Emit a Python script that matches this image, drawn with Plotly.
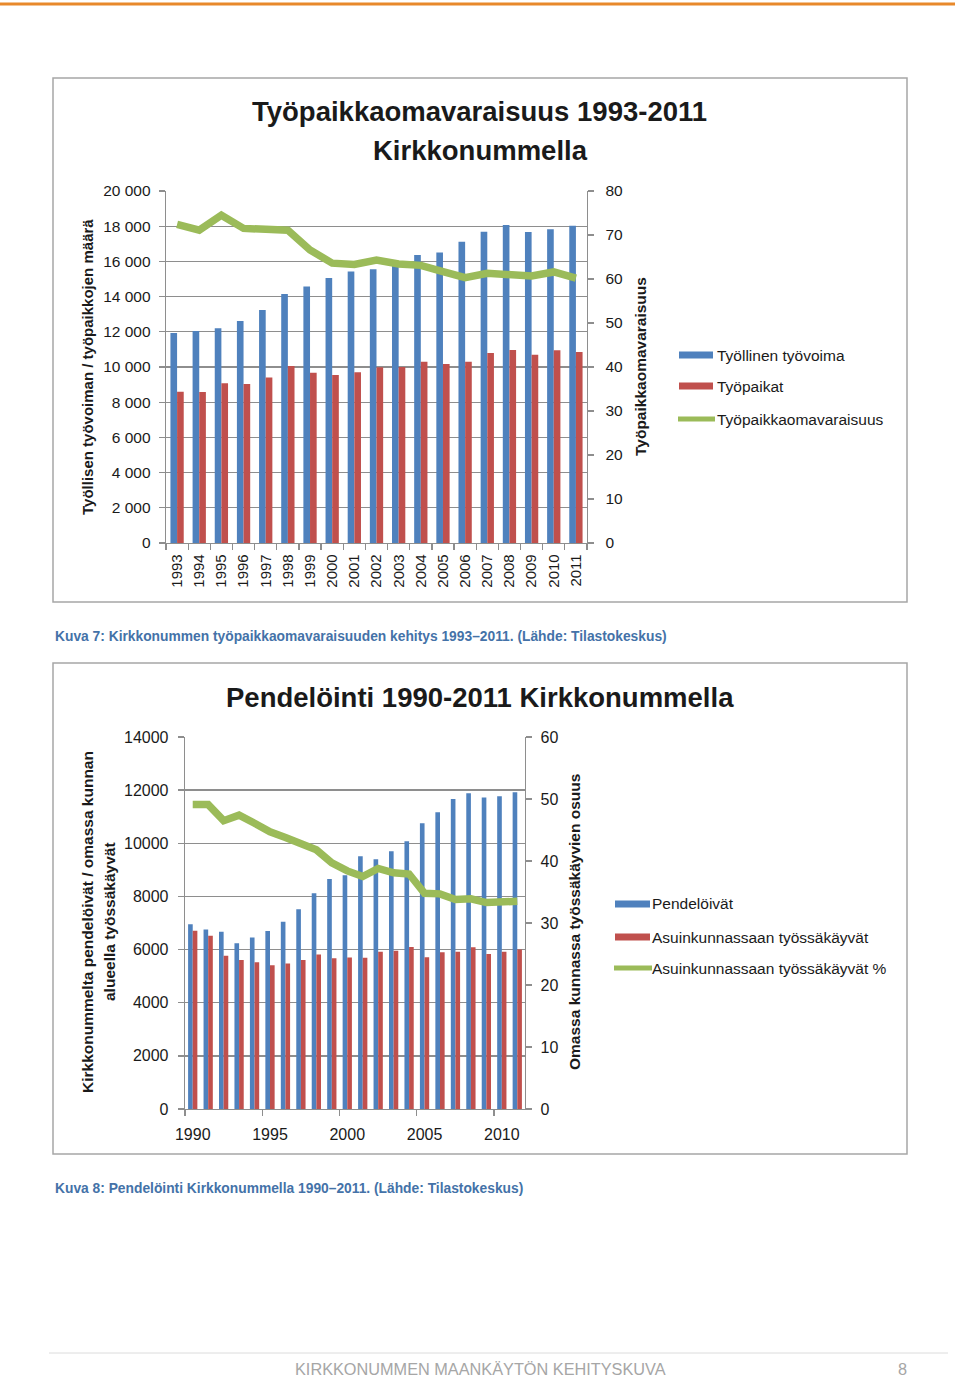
import plotly.graph_objects as go

# ---------------- DATA ----------------
years_top = ["1993", "1994", "1995", "1996", "1997", "1998", "1999", "2000", "2001", "2002",
             "2003", "2004", "2005", "2006", "2007", "2008", "2009", "2010", "2011"]
tyovoima = [11930, 12050, 12200, 12610, 13240, 14150, 14580, 15060, 15420, 15550,
            15800, 16360, 16510, 17120, 17690, 18070, 17670, 17820, 18030]
tyopaikat = [8600, 8580, 9070, 9030, 9410, 10060, 9680, 9545, 9700, 9980,
             10000, 10300, 10170, 10300, 10800, 10970, 10700, 10950, 10850]
omavaraisuus = [72.4, 71.1, 74.5, 71.5, 71.3, 71.1, 66.6, 63.6, 63.3, 64.3,
                63.4, 63.1, 61.7, 60.3, 61.3, 60.9, 60.7, 61.6, 60.2]

years_bot = [1990, 1991, 1992, 1993, 1994, 1995, 1996, 1997, 1998, 1999, 2000,
             2001, 2002, 2003, 2004, 2005, 2006, 2007, 2008, 2009, 2010, 2011]
pendeloivat = [6950, 6760, 6670, 6235, 6450, 6700, 7050, 7515, 8120, 8660, 8800,
               9510, 9400, 9700, 10075, 10750, 11165, 11670, 11880, 11720, 11770, 11920]
asuinkunnassa = [6710, 6520, 5770, 5610, 5520, 5410, 5480, 5610, 5810, 5670, 5700,
                 5695, 5920, 5960, 6100, 5710, 5900, 5920, 6085, 5835, 5920, 6000]
asuinkunnassa_pct = [49.1, 49.1, 46.5, 47.4, 46.1, 44.7, 43.8, 42.9, 41.8, 39.7, 38.4,
                     37.5, 38.8, 38.1, 37.9, 34.8, 34.7, 33.8, 33.9, 33.3, 33.5, 33.5]

top_left_ticks = [0, 2000, 4000, 6000, 8000, 10000, 12000, 14000, 16000, 18000, 20000]
top_right_ticks = [0, 10, 20, 30, 40, 50, 60, 70, 80]
bot_left_ticks = [0, 2000, 4000, 6000, 8000, 10000, 12000, 14000]
bot_right_ticks = [0, 10, 20, 30, 40, 50, 60]
bot_x_ticks = [1990, 1995, 2000, 2005, 2010]

names_top = ["Työllinen työvoima", "Työpaikat", "Työpaikkaomavaraisuus"]
names_bot = ["Pendelöivät", "Asuinkunnassaan työssäkäyvät", "Asuinkunnassaan työssäkäyvät %"]

# ---------------- STYLE ----------------
W, H = 960, 1378
BLUE, RED, GREEN = "#4F81BD", "#C0504D", "#9BBB59"
GRID = "#8e8e8e"
TXT = "#1a1a1a"
FONT = "Liberation Sans, Arial, sans-serif"


def px(x):
    return x / W


def py(y):
    return 1 - y / H


def spaced(v):
    return f"{v:,}".replace(",", " ")


fig = go.Figure()

# top chart
fig.add_trace(go.Bar(x=years_top, y=tyovoima, name=names_top[0], marker=dict(color=BLUE, line=dict(width=0)),
                     xaxis="x", yaxis="y", showlegend=False))
fig.add_trace(go.Bar(x=years_top, y=tyopaikat, name=names_top[1], marker=dict(color=RED, line=dict(width=0)),
                     xaxis="x", yaxis="y", showlegend=False))
fig.add_trace(go.Scatter(x=years_top, y=omavaraisuus, name=names_top[2], mode="lines",
                         line=dict(color=GREEN, width=7.5), xaxis="x", yaxis="y2", showlegend=False))

# bottom chart
fig.add_trace(go.Bar(x=years_bot, y=pendeloivat, name=names_bot[0], marker=dict(color=BLUE, line=dict(width=0)),
                     xaxis="x2", yaxis="y3", showlegend=False))
fig.add_trace(go.Bar(x=years_bot, y=asuinkunnassa, name=names_bot[1], marker=dict(color=RED, line=dict(width=0)),
                     xaxis="x2", yaxis="y3", showlegend=False))
fig.add_trace(go.Scatter(x=years_bot, y=asuinkunnassa_pct, name=names_bot[2], mode="lines",
                         line=dict(color=GREEN, width=7.5), xaxis="x2", yaxis="y4", showlegend=False))

axis_common = dict(showline=True, linecolor=GRID, linewidth=1.3, zeroline=False,
                   ticklen=6, tickcolor=GRID, tickwidth=1.3, fixedrange=True, automargin=False)

fig.update_layout(
    template="none",
    width=W, height=H, margin=dict(l=0, r=0, t=0, b=0, pad=0, autoexpand=False),
    paper_bgcolor="white", plot_bgcolor="white", showlegend=False,
    font=dict(family=FONT, color=TXT),
    barmode="group", bargap=0.4, bargroupgap=0.0,
    xaxis=dict(domain=[px(166), px(587)], anchor="y", type="category", tickangle=-90,
               tickson="boundaries", ticks="outside", showgrid=False, tickfont=dict(size=15, color=TXT),
               ticklabelstandoff=4, **axis_common),
    yaxis=dict(domain=[py(543), py(191)], anchor="x", range=[0, 20000], tickmode="array", ticks="outside",
               tickvals=top_left_ticks, ticktext=[spaced(v) for v in top_left_ticks],
               showgrid=True, gridcolor=GRID, gridwidth=1.3, tickfont=dict(size=15.5, color=TXT),
               ticklabelstandoff=5, **axis_common),
    yaxis2=dict(overlaying="y", anchor="x", side="right", range=[0, 80], tickmode="array", ticks="outside",
                tickvals=top_right_ticks, ticktext=[str(v) for v in top_right_ticks],
                showgrid=False, tickfont=dict(size=15.5, color=TXT), ticklabelstandoff=8, **axis_common),
    xaxis2=dict(domain=[px(185), px(525)], anchor="y3", range=[1989.5, 2011.5], tickmode="array",
                tickvals=bot_x_ticks, ticktext=[str(v) for v in bot_x_ticks], showgrid=False, ticks="",
                tickfont=dict(size=16, color=TXT), ticklabelstandoff=10,
                minor=dict(ticks="outside", tick0=1989.5, dtick=5, ticklen=6, tickcolor=GRID, tickwidth=1.3,
                           showgrid=False),
                **axis_common),
    yaxis3=dict(domain=[py(1109), py(737)], anchor="x2", range=[0, 14000], tickmode="array", ticks="outside",
                tickvals=bot_left_ticks, ticktext=[str(v) for v in bot_left_ticks],
                showgrid=True, gridcolor=GRID, gridwidth=1.3, tickfont=dict(size=16, color=TXT),
                ticklabelstandoff=6, **axis_common),
    yaxis4=dict(overlaying="y3", anchor="x2", side="right", range=[0, 60], tickmode="array", ticks="outside",
                tickvals=bot_right_ticks, ticktext=[str(v) for v in bot_right_ticks],
                showgrid=False, tickfont=dict(size=16, color=TXT), ticklabelstandoff=5, **axis_common),
)

shapes = []
annotations = []

# page decorations
shapes.append(dict(type="line", xref="paper", yref="paper", x0=px(0), x1=px(955), y0=py(4), y1=py(4),
                   line=dict(color="#E8892B", width=3)))
for (x0, y0, x1, y1) in [(53, 78, 907, 602), (53, 663, 907, 1154)]:
    shapes.append(dict(type="rect", xref="paper", yref="paper", x0=px(x0), x1=px(x1), y0=py(y1), y1=py(y0),
                       line=dict(color="#a6a6a6", width=1.5), fillcolor="rgba(0,0,0,0)", layer="below"))
shapes.append(dict(type="line", xref="paper", yref="paper", x0=px(49), x1=px(948), y0=py(1353), y1=py(1353),
                   line=dict(color="#dcdcdc", width=1)))


def ann(text, x, y, size, xanchor="center", yanchor="middle", bold=False, color=TXT, angle=0, family=FONT):
    annotations.append(dict(text=f"<b>{text}</b>" if bold else text, x=px(x), y=py(y), xref="paper",
                            yref="paper", xanchor=xanchor, yanchor=yanchor, showarrow=False,
                            textangle=angle, font=dict(size=size, color=color, family=family)))


# titles
ann("Työpaikkaomavaraisuus 1993-2011", 479, 112, 27.5, bold=True)
ann("Kirkkonummella", 480, 151, 27.5, bold=True)
ann("Pendelöinti 1990-2011 Kirkkonummella", 480, 697, 27.5, bold=True)

# axis titles
ann("Työllisen työvoiman / työpaikkojen määrä", 87, 367, 15, bold=True, angle=-90)
ann("Työpaikkaomavaraisuus", 640, 367, 15.5, bold=True, angle=-90)
ann("Kirkkonummelta pendelöivät / omassa kunnan", 87, 922, 15.5, bold=True, angle=-90)
ann("alueella työssäkäyvät", 109, 922, 15.5, bold=True, angle=-90)
ann("Omassa kunnassa työssäkäyvien osuus", 574, 922, 15.5, bold=True, angle=-90)


# legends
def legend(items, colors, x_sym0, x_sym1, x_text, ys, heights):
    for i, (name, col, yc) in enumerate(zip(items, colors, ys)):
        if i < 2:
            shapes.append(dict(type="rect", xref="paper", yref="paper", x0=px(x_sym0), x1=px(x_sym1),
                               y0=py(yc + heights / 2), y1=py(yc - heights / 2), fillcolor=col,
                               line=dict(width=0)))
        else:
            shapes.append(dict(type="line", xref="paper", yref="paper", x0=px(x_sym0 - 1), x1=px(x_sym1 + 2),
                               y0=py(yc), y1=py(yc), line=dict(color=col, width=5)))
        ann(name, x_text, yc, 15.5, xanchor="left")


legend(names_top, [BLUE, RED, GREEN], 679, 713, 715, [355, 386, 419], 7)
legend(names_bot, [BLUE, RED, GREEN], 615, 650, 650, [904, 937, 968], 7)

# captions
CAP = "#4472A8"
ann("Kuva 7: Kirkkonummen työpaikkaomavaraisuuden kehitys 1993–2011. (Lähde: Tilastokeskus)", 53, 636, 13.8,
    xanchor="left", bold=True, color=CAP)
ann("Kuva 8: Pendelöinti Kirkkonummella 1990–2011. (Lähde: Tilastokeskus)", 53, 1188, 13.8,
    xanchor="left", bold=True, color=CAP)

# footer
ann("KIRKKONUMMEN MAANKÄYTÖN KEHITYSKUVA", 480, 1369, 16.3, color="#a6a6a6")
ann("8", 902, 1369, 16.3, color="#a6a6a6")

fig.update_layout(shapes=shapes, annotations=annotations, hovermode=False)
fig.write_html("out.html", config={"displayModeBar": False, "staticPlot": True},
               post_script="document.body.style.margin='0';document.body.style.overflow='hidden';")
